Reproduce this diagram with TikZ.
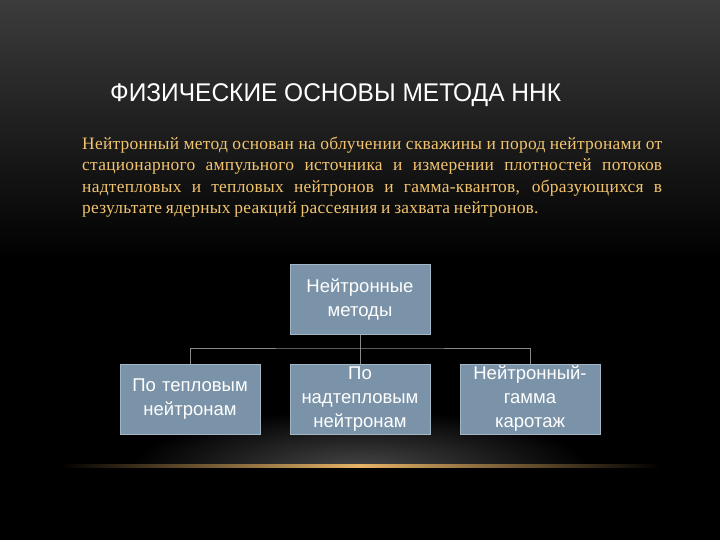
\documentclass[tikz,border=0pt]{standalone}
\usepackage{fontspec}
\setmainfont{Liberation Serif}
\newfontfamily\arialf{Liberation Sans}
\newfontfamily\paraf[LetterSpace=1.6]{Liberation Serif}
\definecolor{boxfill}{HTML}{7B93A8}
\definecolor{boxline}{HTML}{A3B6C6}
\definecolor{goldtext}{HTML}{F2C46E}
\definecolor{topgray}{HTML}{3C3C3C}
\definecolor{linkgray}{HTML}{8A8A8A}
\definecolor{glowgray}{HTML}{484848}
\definecolor{goldline}{HTML}{E8B468}
\tikzset{
  box/.style={draw=boxline, line width=1pt, fill=boxfill, minimum width=140pt, minimum height=70pt,
    text width=136pt, align=center, text=white, font=\arialf\fontsize{18.5}{24}\selectfont, inner sep=0pt},
  link/.style={draw=linkgray, line width=1pt}
}
\begin{document}
\begin{tikzpicture}[x=1pt,y=-1pt]
\useasboundingbox (0,0) rectangle (720,540);
\fill[black] (0,0) rectangle (720,540);
\shade[top color=topgray, bottom color=black] (0,0) rectangle (720,260);
% bottom glow
\begin{scope}
\clip (0,380) rectangle (720,466);
\shade[inner color=glowgray, outer color=black] (360,470) ellipse [x radius=230pt, y radius=60pt];
\end{scope}
\shade[left color=black, right color=black, middle color=goldline] (60,464.8) rectangle (660,467.2);
% title
\node[anchor=base west, inner sep=0pt, text=white] (title) at (110,101.5)
  {\scalebox{0.957}[1]{\arialf\fontsize{25.6}{30}\selectfont ФИЗИЧЕСКИЕ ОСНОВЫ МЕТОДА ННК}};
% paragraph
\node[anchor=north west, inner sep=0pt, text width=580pt, text=goldtext, align=justify] (para) at (82,137)
  {\paraf\fontsize{17.4}{21.3}\selectfont\spaceskip=0.22em plus 1em minus 0.1em
   Нейтронный метод основан на облучении скважины и пород нейтронами от\linebreak
   стационарного ампульного источника и измерении плотностей потоков\linebreak
   надтепловых и тепловых нейтронов и гамма-квантов, образующихся в\linebreak
   результате ядерных реакций рассеяния и захвата нейтронов.\par};
% boxes
\node[box] (top) at (360,299) {Нейтронные\\методы};
\node[box] (b1) at (190,399) {По тепловым\\нейтронам};
\node[box] (b2) at (360,399) {По\\надтепловым\\нейтронам};
\node[box] (b3) at (530,399) {Нейтронный-\\гамма\\каротаж};
\coordinate (j) at (360,348);
\draw[link] (top.south) -- (b2.north);
\draw[link] (b1.north) |- (j) -| (b3.north);
\end{tikzpicture}
\end{document}
